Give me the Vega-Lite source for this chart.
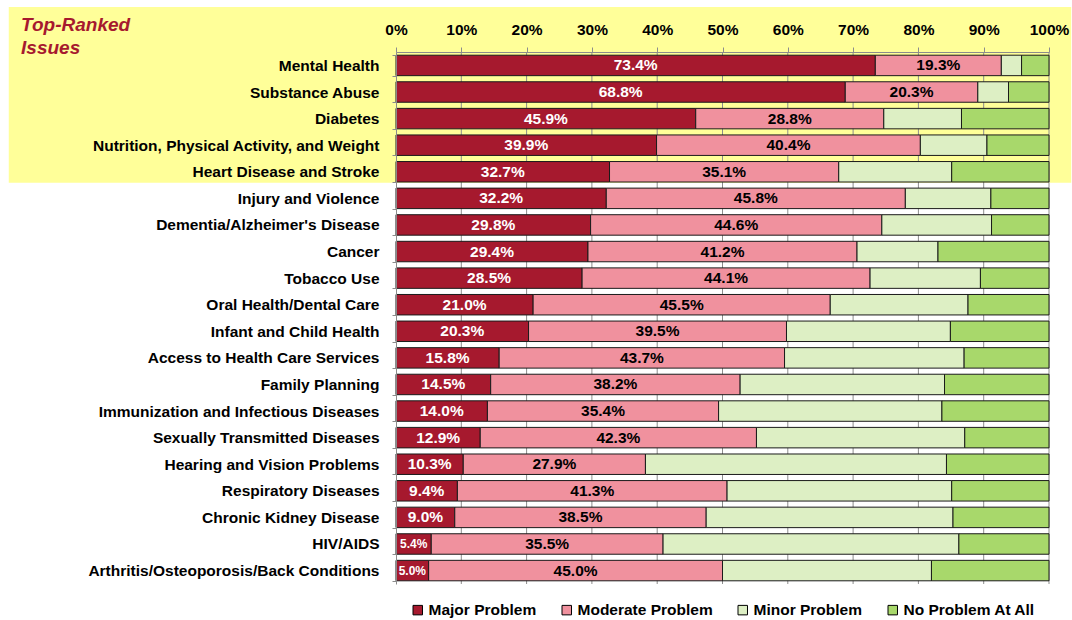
{
  "$schema": "https://vega.github.io/schema/vega-lite/v6.json",
  "width": 653,
  "height": 532,
  "padding": {"left": 8, "top": 7, "right": 2, "bottom": 0},
  "background": "white",
  "config": {
    "view": {"stroke": null},
    "font": "Liberation Sans",
    "legend": {"layout": {"bottom": {"anchor": "middle"}}}
  },
  "datasets": {
    "issues": [
      {"issue": "Mental Health", "Major Problem": 0.734, "Moderate Problem": 0.193, "Minor Problem": 0.031, "No Problem At All": 0.042},
      {"issue": "Substance Abuse", "Major Problem": 0.688, "Moderate Problem": 0.203, "Minor Problem": 0.047, "No Problem At All": 0.062},
      {"issue": "Diabetes", "Major Problem": 0.459, "Moderate Problem": 0.288, "Minor Problem": 0.119, "No Problem At All": 0.134},
      {"issue": "Nutrition, Physical Activity, and Weight", "Major Problem": 0.399, "Moderate Problem": 0.404, "Minor Problem": 0.102, "No Problem At All": 0.095},
      {"issue": "Heart Disease and Stroke", "Major Problem": 0.327, "Moderate Problem": 0.351, "Minor Problem": 0.173, "No Problem At All": 0.149},
      {"issue": "Injury and Violence", "Major Problem": 0.322, "Moderate Problem": 0.458, "Minor Problem": 0.131, "No Problem At All": 0.089},
      {"issue": "Dementia/Alzheimer's Disease", "Major Problem": 0.298, "Moderate Problem": 0.446, "Minor Problem": 0.168, "No Problem At All": 0.088},
      {"issue": "Cancer", "Major Problem": 0.294, "Moderate Problem": 0.412, "Minor Problem": 0.124, "No Problem At All": 0.170},
      {"issue": "Tobacco Use", "Major Problem": 0.285, "Moderate Problem": 0.441, "Minor Problem": 0.169, "No Problem At All": 0.105},
      {"issue": "Oral Health/Dental Care", "Major Problem": 0.210, "Moderate Problem": 0.455, "Minor Problem": 0.211, "No Problem At All": 0.124},
      {"issue": "Infant and Child Health", "Major Problem": 0.203, "Moderate Problem": 0.395, "Minor Problem": 0.251, "No Problem At All": 0.151},
      {"issue": "Access to Health Care Services", "Major Problem": 0.158, "Moderate Problem": 0.437, "Minor Problem": 0.275, "No Problem At All": 0.130},
      {"issue": "Family Planning", "Major Problem": 0.145, "Moderate Problem": 0.382, "Minor Problem": 0.313, "No Problem At All": 0.160},
      {"issue": "Immunization and Infectious Diseases", "Major Problem": 0.140, "Moderate Problem": 0.354, "Minor Problem": 0.342, "No Problem At All": 0.164},
      {"issue": "Sexually Transmitted Diseases", "Major Problem": 0.129, "Moderate Problem": 0.423, "Minor Problem": 0.319, "No Problem At All": 0.129},
      {"issue": "Hearing and Vision Problems", "Major Problem": 0.103, "Moderate Problem": 0.279, "Minor Problem": 0.461, "No Problem At All": 0.157},
      {"issue": "Respiratory Diseases", "Major Problem": 0.094, "Moderate Problem": 0.413, "Minor Problem": 0.344, "No Problem At All": 0.149},
      {"issue": "Chronic Kidney Disease", "Major Problem": 0.090, "Moderate Problem": 0.385, "Minor Problem": 0.378, "No Problem At All": 0.147},
      {"issue": "HIV/AIDS", "Major Problem": 0.054, "Moderate Problem": 0.355, "Minor Problem": 0.453, "No Problem At All": 0.138},
      {"issue": "Arthritis/Osteoporosis/Back Conditions", "Major Problem": 0.050, "Moderate Problem": 0.450, "Minor Problem": 0.320, "No Problem At All": 0.180}
    ],
    "types": [
      {"type": "Major Problem", "rank": 1},
      {"type": "Moderate Problem", "rank": 2},
      {"type": "Minor Problem", "rank": 3},
      {"type": "No Problem At All", "rank": 4}
    ],
    "gridlines": [
      {"g": 0.1}, {"g": 0.2}, {"g": 0.3}, {"g": 0.4}, {"g": 0.5},
      {"g": 0.6}, {"g": 0.7}, {"g": 0.8}, {"g": 0.9}, {"g": 1.0}
    ]
  },
  "resolve": {"scale": {"y": "independent"}},
  "layer": [
    {
      "data": {"values": [{}]},
      "layer": [
        {
          "mark": {"type": "rect", "color": "#FFFF99"},
          "encoding": {
            "x": {"datum": -0.593, "type": "quantitative", "scale": {"domain": [0, 1], "nice": false, "zero": false}, "title": null},
            "x2": {"datum": 1.034},
            "y": {"datum": 15.08, "type": "quantitative", "scale": {"domain": [0, 20], "nice": false, "zero": false}, "axis": null},
            "y2": {"datum": 21.69}
          }
        },
        {
          "mark": {"type": "text", "align": "left", "baseline": "top", "font": "Liberation Sans", "fontSize": 19, "fontWeight": "bold", "fontStyle": "italic", "color": "#A6192E", "lineHeight": 23},
          "encoding": {
            "x": {"datum": -0.5742, "type": "quantitative", "scale": {"domain": [0, 1], "nice": false, "zero": false}, "title": null},
            "y": {"datum": 21.37, "type": "quantitative", "scale": {"domain": [0, 20], "nice": false, "zero": false}, "axis": null},
            "text": {"value": ["Top-Ranked", "Issues"]}
          }
        }
      ]
    },
    {
      "layer": [
        {
          "data": {"name": "gridlines"},
          "mark": {"type": "rule", "color": "#8C8C8C", "strokeWidth": 1},
          "encoding": {
            "x": {"field": "g", "type": "quantitative", "scale": {"domain": [0, 1], "nice": false, "zero": false}, "title": null}
          }
        },
        {
          "data": {"name": "issues"},
          "transform": [
            {"fold": ["Major Problem", "Moderate Problem", "Minor Problem", "No Problem At All"], "as": ["type", "pct"]},
            {"lookup": "type", "from": {"data": {"name": "types"}, "key": "type", "fields": ["rank"]}}
          ],
          "mark": {"type": "bar", "stroke": "#1A1A1A", "strokeWidth": 1},
          "encoding": {
            "y": {
              "field": "issue", "type": "nominal",
              "sort": ["Mental Health", "Substance Abuse", "Diabetes", "Nutrition, Physical Activity, and Weight", "Heart Disease and Stroke", "Injury and Violence", "Dementia/Alzheimer's Disease", "Cancer", "Tobacco Use", "Oral Health/Dental Care", "Infant and Child Health", "Access to Health Care Services", "Family Planning", "Immunization and Infectious Diseases", "Sexually Transmitted Diseases", "Hearing and Vision Problems", "Respiratory Diseases", "Chronic Kidney Disease", "HIV/AIDS", "Arthritis/Osteoporosis/Back Conditions"],
              "scale": {"paddingInner": 0.23, "paddingOuter": 0.12},
              "axis": {
                "title": null,
                "zindex": 1,
                "labelFont": "Liberation Sans",
                "labelFontSize": 15.5,
                "labelFontWeight": "bold",
                "labelColor": "#000000",
                "labelPadding": 13,
                "labelLimit": 400,
                "domainColor": "#8C8C8C",
                "tickColor": "#8C8C8C",
                "tickSize": 4,
                "tickBand": "extent",
                "grid": false
              }
            },
            "x": {
              "field": "pct", "type": "quantitative", "stack": "zero",
              "scale": {"domain": [0, 1], "nice": false, "zero": false},
              "title": null,
              "axis": {
                "orient": "top",
                "zindex": 1,
                "values": [0, 0.1, 0.2, 0.3, 0.4, 0.5, 0.6, 0.7, 0.8, 0.9, 1],
                "format": ".0%",
                "grid": false,
                "labelFont": "Liberation Sans",
                "labelFontSize": 15.5,
                "labelFontWeight": "bold",
                "labelColor": "#000000",
                "labelPadding": 10,
                "labelFlush": false,
                "domainColor": "#8C8C8C",
                "tickColor": "#8C8C8C",
                "tickSize": 5
              }
            },
            "order": {"field": "rank", "type": "quantitative"},
            "color": {
              "field": "type", "type": "nominal",
              "sort": ["Major Problem", "Moderate Problem", "Minor Problem", "No Problem At All"],
              "scale": {
                "domain": ["Major Problem", "Moderate Problem", "Minor Problem", "No Problem At All"],
                "range": ["#A6192E", "#F0919E", "#DDEFC4", "#A8D86B"]
              },
              "legend": {
                "title": null,
                "orient": "bottom",
                "direction": "horizontal",
                "columns": 4,
                "symbolType": "square",
                "symbolSize": 90,
                "symbolStrokeColor": "#000000",
                "symbolStrokeWidth": 1,
                "labelFont": "Liberation Sans",
                "labelFontSize": 15.5,
                "labelFontWeight": "bold",
                "labelColor": "#000000",
                "labelOffset": 3,
                "columnPadding": 22,
                "offset": 18
              }
            }
          }
        },
        {
          "data": {"name": "issues"},
          "transform": [
            {"fold": ["Major Problem", "Moderate Problem"], "as": ["type", "pct"]},
            {"lookup": "type", "from": {"data": {"name": "types"}, "key": "type", "fields": ["rank"]}}
          ],
          "mark": {"type": "text", "font": "Liberation Sans", "fontWeight": "bold", "baseline": "middle", "align": "center"},
          "encoding": {
            "y": {"field": "issue", "type": "nominal", "sort": ["Mental Health", "Substance Abuse", "Diabetes", "Nutrition, Physical Activity, and Weight", "Heart Disease and Stroke", "Injury and Violence", "Dementia/Alzheimer's Disease", "Cancer", "Tobacco Use", "Oral Health/Dental Care", "Infant and Child Health", "Access to Health Care Services", "Family Planning", "Immunization and Infectious Diseases", "Sexually Transmitted Diseases", "Hearing and Vision Problems", "Respiratory Diseases", "Chronic Kidney Disease", "HIV/AIDS", "Arthritis/Osteoporosis/Back Conditions"], "title": null},
            "x": {"field": "pct", "type": "quantitative", "stack": "zero", "bandPosition": 0.5, "scale": {"domain": [0, 1], "nice": false, "zero": false}, "title": null},
            "order": {"field": "rank", "type": "quantitative"},
            "detail": {"field": "type", "type": "nominal"},
            "text": {"field": "pct", "type": "quantitative", "format": ".1%"},
            "color": {"condition": {"test": "datum.type === 'Major Problem'", "value": "#FFFFFF"}, "value": "#000000"},
            "size": {"condition": {"test": "datum.pct < 0.06", "value": 12}, "value": 15.5}
          }
        }
      ]
    }
  ]
}
